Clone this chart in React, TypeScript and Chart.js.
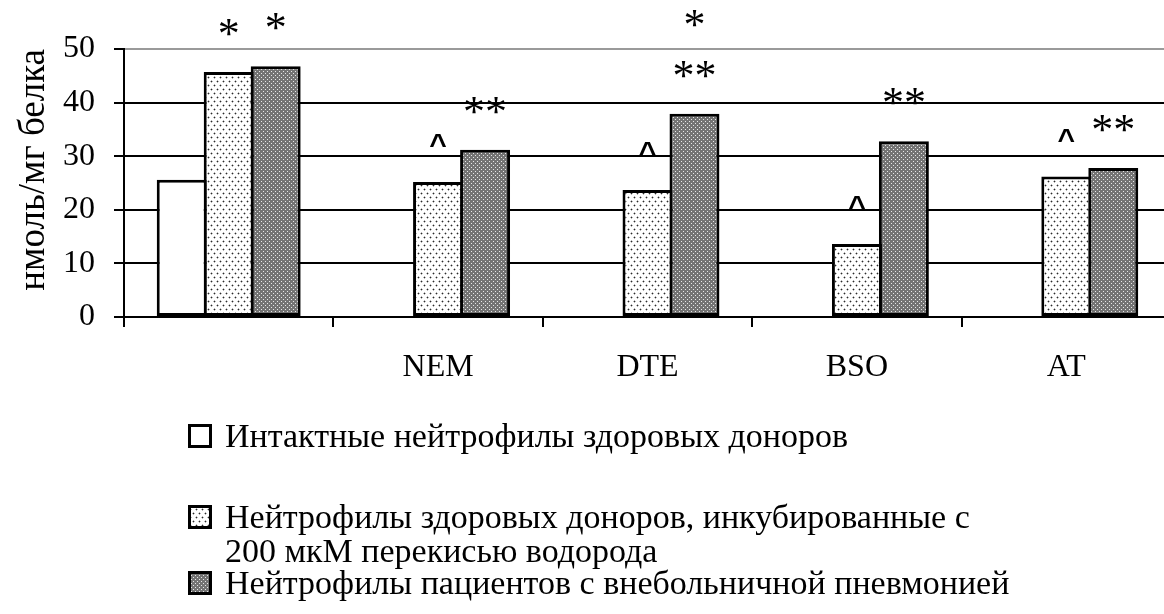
import React, { useEffect, useRef } from "react";
import { Chart, registerables } from "chart.js";

Chart.register(...registerables);

// Categories along the x axis (first group is the untreated baseline)
const categories = ["", "NEM", "DTE", "BSO", "AT"];

// Series values, nmol/mg protein
const intactValues = [25.6, null, null, null, null];
const h2o2Values = [45.7, 25.2, 23.7, 13.6, 26.2];
const pneumoniaValues = [46.8, 31.2, 37.9, 32.8, 27.8];

// Significance marks above the bars (lines listed top to bottom)
const h2o2Marks = [["*"], ["^"], ["^"], ["^"], ["^"]];
const pneumoniaMarks = [["*"], ["**"], ["*", "**"], ["**"], ["**"]];

// Legend text, one entry per series (lines as wrapped in the legend)
const seriesNames = [
  ["Интактные нейтрофилы здоровых доноров"],
  ["Нейтрофилы здоровых доноров, инкубированные с", "200 мкМ перекисью водорода"],
  ["Нейтрофилы пациентов с внебольничной пневмонией"],
];

const yTitle = "нмоль/мг белка";
const yMin = 0;
const yMax = 50;
const yStep = 10;

const FONT = "'Liberation Serif', 'Times New Roman', serif";
const CARET_FONT = "'Liberation Sans', Arial, sans-serif";

function makeTile(w: number, h: number, draw: (c: CanvasRenderingContext2D) => void) {
  const tile = document.createElement("canvas");
  tile.width = w;
  tile.height = h;
  const c = tile.getContext("2d")!;
  draw(c);
  return tile;
}

function makePatterns(ctx: CanvasRenderingContext2D) {
  // sparse staggered dots on white
  const dots = makeTile(6, 8, (c) => {
    c.fillStyle = "#ffffff";
    c.fillRect(0, 0, 6, 8);
    c.fillStyle = "#b8b8b8";
    c.fillRect(0, 1, 3, 1);
    c.fillRect(1, 0, 1, 3);
    c.fillRect(3, 5, 3, 1);
    c.fillRect(4, 4, 1, 3);
    c.fillStyle = "#2a2a2a";
    c.fillRect(1, 1, 1, 1);
    c.fillRect(4, 5, 1, 1);
  });
  // dense grey stipple
  const dense = makeTile(4, 4, (c) => {
    c.fillStyle = "#747474";
    c.fillRect(0, 0, 4, 4);
    c.fillStyle = "#e8e8e8";
    c.fillRect(1, 1, 1, 1);
    c.fillRect(3, 3, 1, 1);
  });
  return {
    dots: ctx.createPattern(dots, "repeat")!,
    dense: ctx.createPattern(dense, "repeat")!,
  };
}

// Draws the significance symbols centred over each bar
const marksPlugin = {
  id: "sigMarks",
  afterDatasetsDraw(chart: any, _args: any, opts: any) {
    const { ctx } = chart;
    ctx.save();
    ctx.fillStyle = "#000";
    ctx.textAlign = "center";
    ctx.textBaseline = "alphabetic";
    const sets: [number, string[][]][] = [
      [1, h2o2Marks],
      [2, pneumoniaMarks],
    ];
    sets.forEach(([di, marks]) => {
      const meta = chart.getDatasetMeta(di);
      marks.forEach((lines, i) => {
        const el = meta.data[i];
        if (!el || !lines) return;
        const rev = lines.slice().reverse();
        rev.forEach((t, k) => {
          const caret = t.indexOf("^") >= 0;
          ctx.font = caret ? `bold 30px ${CARET_FONT}` : `44px ${FONT}`;
          const gap = caret ? opts.caretGap : opts.gap;
          ctx.fillText(t, el.x, el.y - gap - k * opts.lineStep);
        });
      });
    });
    ctx.restore();
  },
};

// Vertical legend with patterned swatches below the plot
const boxLegendPlugin = {
  id: "boxLegend",
  afterDraw(chart: any, _args: any, opts: any) {
    const { ctx } = chart;
    ctx.save();
    ctx.font = `34px ${FONT}`;
    ctx.textAlign = "left";
    ctx.textBaseline = "alphabetic";
    opts.rows.forEach((row: any, i: number) => {
      const ds = chart.data.datasets[i];
      const s = opts.box;
      ctx.fillStyle = ds.backgroundColor;
      ctx.fillRect(opts.boxX, row.boxY, s, s);
      ctx.lineWidth = 3;
      ctx.strokeStyle = "#000";
      ctx.strokeRect(opts.boxX + 1.5, row.boxY + 1.5, s - 3, s - 3);
      ctx.fillStyle = "#000";
      seriesNames[i].forEach((line, k) => {
        ctx.fillText(line, opts.textX, row.lines[k]);
      });
    });
    ctx.restore();
  },
};

export default function App() {
  const ref = useRef<HTMLCanvasElement | null>(null);

  useEffect(() => {
    const canvas = ref.current!;
    const ctx = canvas.getContext("2d")!;
    const pats = makePatterns(ctx);

    const barCommon = {
      borderColor: "#000000",
      borderWidth: 3,
      borderSkipped: false as const,
      categoryPercentage: 0.673,
      barPercentage: 50 / 47,
    };

    const chart = new Chart(canvas, {
      type: "bar",
      data: {
        labels: categories,
        datasets: [
          { label: seriesNames[0].join(" "), data: intactValues, backgroundColor: "#ffffff", ...barCommon },
          { label: seriesNames[1].join(" "), data: h2o2Values, backgroundColor: pats.dots as any, ...barCommon },
          { label: seriesNames[2].join(" "), data: pneumoniaValues, backgroundColor: pats.dense as any, ...barCommon },
        ],
      },
      options: {
        responsive: false,
        animation: false,
        events: [],
        layout: { padding: { top: 49, right: 19, left: 0, bottom: 0 } },
        plugins: {
          legend: { display: false },
          tooltip: { enabled: false },
          sigMarks: { gap: 24, caretGap: 28, lineStep: 51 },
          boxLegend: {
            boxX: 188,
            textX: 225,
            box: 24,
            rows: [
              { boxY: 424, lines: [447] },
              { boxY: 505, lines: [528, 562] },
              { boxY: 571, lines: [594] },
            ],
          },
        } as any,
        scales: {
          x: {
            offset: true,
            grid: {
              display: true,
              offset: true,
              drawOnChartArea: false,
              drawTicks: true,
              tickLength: 10,
              color: "#000",
              lineWidth: 2,
            },
            border: { display: true, color: "#000", width: 2 },
            ticks: {
              color: "#000",
              font: { family: FONT, size: 32 },
              padding: 21,
              maxRotation: 0,
              autoSkip: false,
            },
            afterFit: (s: any) => {
              s.height = 614 - 317;
            },
          },
          y: {
            min: yMin,
            max: yMax,
            ticks: {
              stepSize: yStep,
              color: "#000",
              font: { family: FONT, size: 32 },
              padding: 19,
            },
            grid: {
              color: (c: any) => (c.tick && c.tick.value === yMax ? "#9a9a9a" : "#000"),
              tickColor: "#000",
              lineWidth: 2,
              tickLength: 10,
            },
            border: { display: true, color: "#000", width: 2 },
            title: {
              display: true,
              text: yTitle,
              align: "end",
              color: "#000",
              font: { family: FONT, size: 37 },
              padding: { top: 12, bottom: 0 },
            },
            afterFit: (s: any) => {
              s.width = 124;
            },
          },
        },
      },
      plugins: [marksPlugin, boxLegendPlugin],
    });

    return () => chart.destroy();
  }, []);

  return (
    <div
      style={{
        position: "fixed",
        left: 0,
        top: 0,
        width: 1164,
        height: 614,
        overflow: "hidden",
        background: "#ffffff",
      }}
    >
      <canvas ref={ref} width={1190} height={614} style={{ display: "block" }} />
    </div>
  );
}
